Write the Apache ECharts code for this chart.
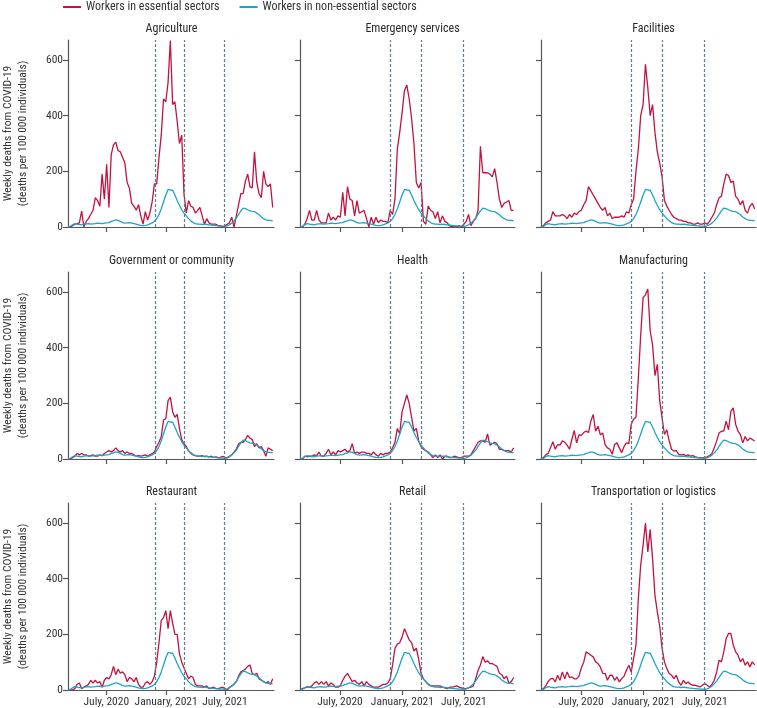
<!DOCTYPE html>
<html>
<head>
<meta charset="utf-8">
<script src="https://cdn.jsdelivr.net/npm/echarts@6/dist/echarts.min.js"></script>
<style>
  html, body { margin: 0; padding: 0; background: #fff; }
  #main { width: 757px; height: 708px; }
</style>
</head>
<body>
<div id="main"></div>
<script>
// weekly points, starting 5 March 2020
const startDate = Date.UTC(2020, 2, 5);
const axisEnd = Date.UTC(2021, 10, 29);
const tickDates = [Date.UTC(2020, 6, 1), Date.UTC(2021, 0, 1), Date.UTC(2021, 6, 1)];
const markerDates = [Date.UTC(2020, 10, 27), Date.UTC(2021, 1, 27), Date.UTC(2021, 5, 28)];
const yTicks = [0, 200, 400, 600];

const sectors = ['Agriculture', 'Emergency services', 'Facilities', 'Government or community', 'Health', 'Manufacturing', 'Restaurant', 'Retail', 'Transportation or logistics'];

// non-essential workers (same reference curve in every panel)
const nonEssential = [0,2,8,12,10,9,8,10,11,12,10,11,12,14,13,12,14,15,16,20,22,26,24,20,16,14,15,16,14,12,10,8,6,5,6,8,11,15,20,30,45,65,90,115,135,133,132,115,95,78,62,50,40,30,22,16,12,10,10,9,10,9,8,7,6,5,4,3,3,2,4,8,14,22,32,45,58,68,66,62,58,56,55,50,44,36,30,26,24,24,22];

const agriculture = [0,0,5,10,12,15,57,0,20,30,45,60,105,95,75,190,100,225,70,260,295,305,275,270,250,230,160,140,85,75,60,80,40,10,55,25,50,90,155,155,250,330,460,450,520,670,440,450,380,300,330,120,50,95,75,70,50,60,70,40,10,30,15,10,10,10,5,5,0,5,10,15,35,0,40,80,120,120,165,190,145,140,270,160,120,105,200,155,145,155,70];
const emergency = [0,0,10,30,60,25,25,60,25,15,15,15,50,25,35,25,40,35,125,40,145,100,95,40,95,50,55,60,30,0,35,10,35,15,25,20,20,15,60,45,100,280,340,410,490,510,460,390,300,160,140,160,20,10,75,60,55,30,55,15,40,20,15,5,0,5,0,5,0,10,20,45,5,20,30,60,290,195,195,195,190,180,210,160,100,70,85,90,95,60,60];
const facilities = [0,5,15,20,25,55,40,40,40,45,40,30,45,35,50,45,55,60,80,95,145,130,115,100,85,70,60,70,40,50,30,35,35,35,40,35,55,50,80,100,200,280,400,440,585,500,400,440,340,270,230,180,95,75,60,45,35,30,25,25,20,20,15,15,10,10,15,10,10,15,10,20,35,50,80,105,110,155,190,185,160,165,110,100,80,95,60,50,75,85,65];
const government = [0,0,5,10,20,15,20,15,15,10,12,15,10,10,15,12,20,25,30,25,30,40,30,25,30,20,25,20,20,15,10,12,10,12,15,10,15,20,25,45,60,80,140,145,210,222,170,150,160,110,70,55,45,30,20,15,12,10,10,12,8,10,8,10,6,8,5,6,10,5,5,10,15,25,35,55,60,60,70,85,75,70,45,55,40,45,30,10,40,35,30];
const health = [0,0,10,8,10,10,15,12,25,10,10,20,35,15,25,15,30,25,30,35,25,30,55,20,25,20,25,25,20,20,15,25,15,10,20,15,20,20,25,40,60,110,90,170,200,230,200,150,100,110,65,45,35,30,25,15,5,15,5,15,0,10,10,5,5,10,8,5,5,10,10,10,15,30,45,60,65,65,60,90,50,55,60,55,35,35,30,30,30,25,40];
const manufacturing = [0,5,15,20,40,62,35,52,50,65,60,50,35,70,103,58,87,85,95,100,95,136,160,100,118,87,93,52,40,35,17,52,58,40,23,45,58,55,125,143,150,290,445,580,590,611,460,410,300,340,210,148,88,105,65,35,29,30,17,15,17,12,15,10,12,8,6,5,4,6,8,12,20,40,65,93,100,100,136,105,172,184,125,100,88,58,81,65,75,70,65];
const restaurant = [0,0,0,5,20,25,5,10,15,20,35,25,35,25,30,10,35,45,40,55,85,55,75,60,65,55,30,45,40,30,45,20,10,10,25,30,20,30,50,100,170,250,260,285,220,285,240,200,200,130,100,80,60,40,50,45,20,15,15,15,10,15,5,8,10,5,5,8,10,5,0,10,15,20,30,50,65,70,75,85,90,60,55,60,40,35,30,25,30,20,40];
const retail = [0,5,8,10,10,15,25,30,20,30,20,30,15,25,20,10,10,15,35,50,60,45,30,35,25,20,30,15,30,20,15,10,10,10,15,20,20,25,40,90,150,165,170,190,220,200,180,170,140,150,110,60,40,30,20,15,15,15,15,15,10,8,5,10,10,12,15,10,8,5,5,8,10,15,40,70,90,120,100,105,95,95,90,85,60,55,40,50,25,30,45];
const transport = [0,5,15,30,40,42,29,53,35,65,40,65,45,47,40,40,50,80,100,137,131,125,119,101,95,83,60,59,35,53,53,35,47,29,41,50,71,89,65,113,161,328,449,520,600,496,577,472,341,281,230,150,101,77,59,53,41,53,29,17,35,23,29,20,17,17,14,11,17,23,17,11,20,35,65,107,101,137,185,203,203,161,137,125,101,113,89,101,83,101,90];

const essential = [agriculture, emergency, facilities, government, health, manufacturing, restaurant, retail, transport];

const monthNames = ['January','February','March','April','May','June','July','August','September','October','November','December'];
const week = 7 * 24 * 3600 * 1000;
const toPairs = (arr) => arr.map((v, i) => [startDate + i * week, v]);

const font = "'Liberation Sans Narrow', 'Roboto Condensed', Roboto, sans-serif";
const red = '#c1133f';
const blue = '#1ba4c8';
const axisColor = '#555555';

const colLeft = [59, 300, 541];
const rowTop = [40, 272, 503];
const gridW = 215;
const gridH = 187;

const grids = [], xAxes = [], yAxes = [], series = [], titles = [];

sectors.forEach((name, k) => {
  const row = Math.floor(k / 3), col = k % 3;
  grids.push({ left: colLeft[col], top: rowTop[row], width: gridW, height: gridH });
  titles.push({
    text: name,
    left: colLeft[col] + gridW / 2,
    top: rowTop[row] - 22,
    textAlign: 'center',
    textStyle: { fontFamily: font, fontSize: 12, fontWeight: 'normal', color: '#2a2a2a' },
  });
  // dates kept as plain timestamps on a value axis so the three ticks can be placed exactly
  xAxes.push({
    type: 'value',
    gridIndex: k,
    min: startDate,
    max: axisEnd,
    splitLine: { show: false },
    axisLine: { lineStyle: { color: axisColor, width: 1.2 } },
    axisTick: { length: 5, lineStyle: { color: axisColor, width: 1.2 }, customValues: tickDates },
    axisLabel: {
      show: row === 2,
      customValues: tickDates,
      fontFamily: font,
      fontSize: 11.5,
      color: '#333',
      margin: 6,
      formatter: (v) => {
        const d = new Date(v);
        return monthNames[d.getUTCMonth()] + ', ' + d.getUTCFullYear();
      },
    },
  });
  yAxes.push({
    type: 'value',
    gridIndex: k,
    min: 0,
    max: 672,
    splitLine: { show: false },
    axisLine: { show: true, lineStyle: { color: axisColor, width: 1.2 } },
    axisTick: { show: true, length: 5, lineStyle: { color: axisColor, width: 1.2 }, customValues: yTicks },
    axisLabel: { show: col === 0, customValues: yTicks, fontFamily: font, fontSize: 11.5, color: '#333', margin: 5 },
    name: col === 0 ? 'Weekly deaths from COVID-19\n(deaths per 100\u2009000 individuals)' : '',
    nameLocation: 'middle',
    nameGap: 37,
    nameTextStyle: { fontFamily: font, fontSize: 11.5, color: '#333', lineHeight: 15 },
  });
  series.push({
    name: 'Workers in essential sectors',
    type: 'line',
    xAxisIndex: k,
    yAxisIndex: k,
    data: toPairs(essential[k]),
    showSymbol: false,
    lineStyle: { color: red, width: 1.3 },
    itemStyle: { color: red },
    markLine: {
      silent: true,
      symbol: ['none', 'none'],
      label: { show: false },
      lineStyle: { color: '#5f7d8a', type: [3, 2], width: 1.2 },
      data: markerDates.map((d) => ({ xAxis: d })),
    },
  });
  series.push({
    name: 'Workers in non-essential sectors',
    type: 'line',
    xAxisIndex: k,
    yAxisIndex: k,
    data: toPairs(nonEssential),
    showSymbol: false,
    lineStyle: { color: blue, width: 1.3 },
    itemStyle: { color: blue },
  });
});

const chart = echarts.init(document.getElementById('main'));
chart.setOption({
  animation: false,
  title: titles,
  legend: {
    left: 58,
    top: -4,
    itemWidth: 18,
    itemHeight: 2,
    itemGap: 20,
    icon: 'rect',
    textStyle: { fontFamily: font, fontSize: 12, color: '#333' },
    data: ['Workers in essential sectors', 'Workers in non-essential sectors'],
  },
  grid: grids,
  xAxis: xAxes,
  yAxis: yAxes,
  series: series,
});
</script>
</body>
</html>
